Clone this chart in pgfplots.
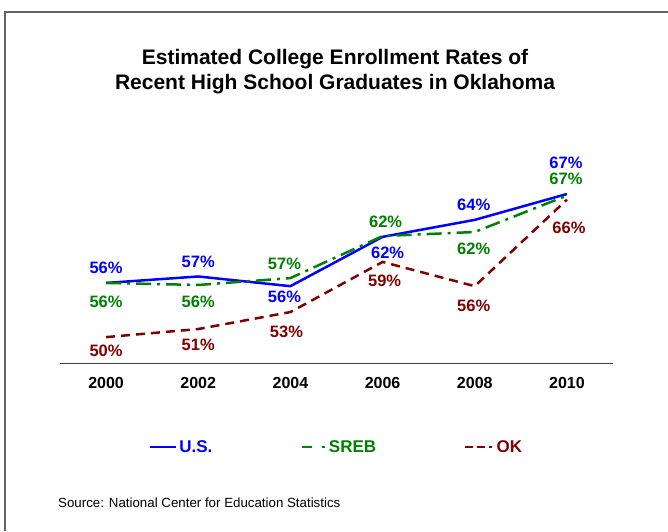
\documentclass[border=0pt]{standalone}
\usepackage{pgfplots}
\pgfplotsset{compat=1.18}
\usepackage{pgfplotstable}
\usepackage{fontspec}
\setmainfont{Liberation Sans}
\definecolor{usblue}{RGB}{0,0,255}
\definecolor{srebgreen}{RGB}{0,128,0}
\definecolor{okred}{RGB}{128,0,0}
\definecolor{framegray}{RGB}{100,100,100}

\pgfplotstableread{
x     y      lab dx  dy
2000  56.0   56  0   15
2002  56.8   57  0   15
2004  55.6   56  -6  -11
2006  61.7   62  5   -16
2008  63.8   64  -1  15
2010  67.0   67  -1  31
}\usdata
\pgfplotstableread{
x     y      lab dx  dy
2000  56.0   56  0   -19
2002  55.75  56  0   -17
2004  56.6   57  -6  14
2006  61.8   62  3   14
2008  62.3   62  -1  -17
2010  66.8   67  -1  17
}\srebdata
\pgfplotstableread{
x     y      lab dx  dy
2000  49.3   50  0   -14
2002  50.3   51  0   -16
2004  52.4   53  -4  -20
2006  58.6   59  2   -19
2008  55.6   56  -1  -20
2010  66.3   66  2   -28
}\okdata

\begin{document}
\begin{tikzpicture}
\useasboundingbox (0pt,0pt) rectangle (668pt,531pt);
% frame
\draw[framegray, line width=1.5pt] (5pt,0pt) -- (5pt,519pt) -- (668pt,519pt);
% title
\node[font=\bfseries\fontsize{21}{25}\selectfont, align=center] at (335pt,459pt)
  {Estimated College Enrollment Rates of\\Recent High School Graduates in Oklahoma};
% source
\node[font=\fontsize{13.3}{15}\selectfont, anchor=west, inner sep=0pt] at (58pt,28pt)
  {Source: National Center for Education Statistics};
\begin{axis}[
  at={(60pt,168pt)}, anchor=south west,
  scale only axis, width=553pt, height=213pt,
  xmin=1999, xmax=2011, ymin=46.1, ymax=72.44,
  axis x line=bottom, axis y line=none,
  axis line style={-, draw=black!75, line width=1pt},
  xtick={2000,2002,2004,2006,2008,2010},
  xticklabels={2000,2002,2004,2006,2008,2010},
  major tick length=0pt,
  xticklabel style={font=\bfseries\fontsize{16}{16}\selectfont, anchor=center, yshift=-20pt},
  clip=false,
  point meta=explicit symbolic,
  nodes near coords={\pgfplotspointmeta\%},
  visualization depends on={\thisrow{dx} \as \ldx},
  visualization depends on={\thisrow{dy} \as \ldy},
  nodes near coords style={anchor=center, inner sep=0pt, xshift=\ldx pt, yshift=\ldy pt,
     font=\bfseries\fontsize{16.5}{16.5}\selectfont},
  legend style={draw=none, fill=none, at={(0.5,-0.394)}, anchor=center,
     font=\bfseries\fontsize{17}{17}\selectfont,
     /tikz/every even column/.append style={column sep=86pt},
     inner sep=0pt},
  legend columns=3,
]
\addplot[usblue, line width=2.5pt, mark=none, nodes near coords style={text=usblue},
  legend image code/.code={\draw[usblue, line width=2.5pt] (0pt,0pt) -- (26pt,0pt);}]
  table[x=x, y=y, meta=lab] {\usdata};
\addlegendentry{\textcolor{usblue}{U.S.}}
\addplot[srebgreen, line width=2.5pt, mark=none, dash pattern=on 15pt off 6pt on 3pt off 6pt,
  nodes near coords style={text=srebgreen},
  legend image code/.code={\draw[srebgreen, line width=2.5pt, dash pattern=on 10pt off 10pt on 3pt off 4pt] (0pt,0pt) -- (24pt,0pt);}]
  table[x=x, y=y, meta=lab] {\srebdata};
\addlegendentry{\textcolor{srebgreen}{SREB}}
\addplot[okred, line width=2.5pt, mark=none, dash pattern=on 9pt off 6pt,
  nodes near coords style={text=okred},
  legend image code/.code={\draw[okred, line width=2.5pt, dash pattern=on 8pt off 4pt on 8pt off 4pt on 3pt off 4pt] (0pt,0pt) -- (28pt,0pt);}]
  table[x=x, y=y, meta=lab] {\okdata};
\addlegendentry{\textcolor{okred}{OK}}
\end{axis}
\end{tikzpicture}
\end{document}
